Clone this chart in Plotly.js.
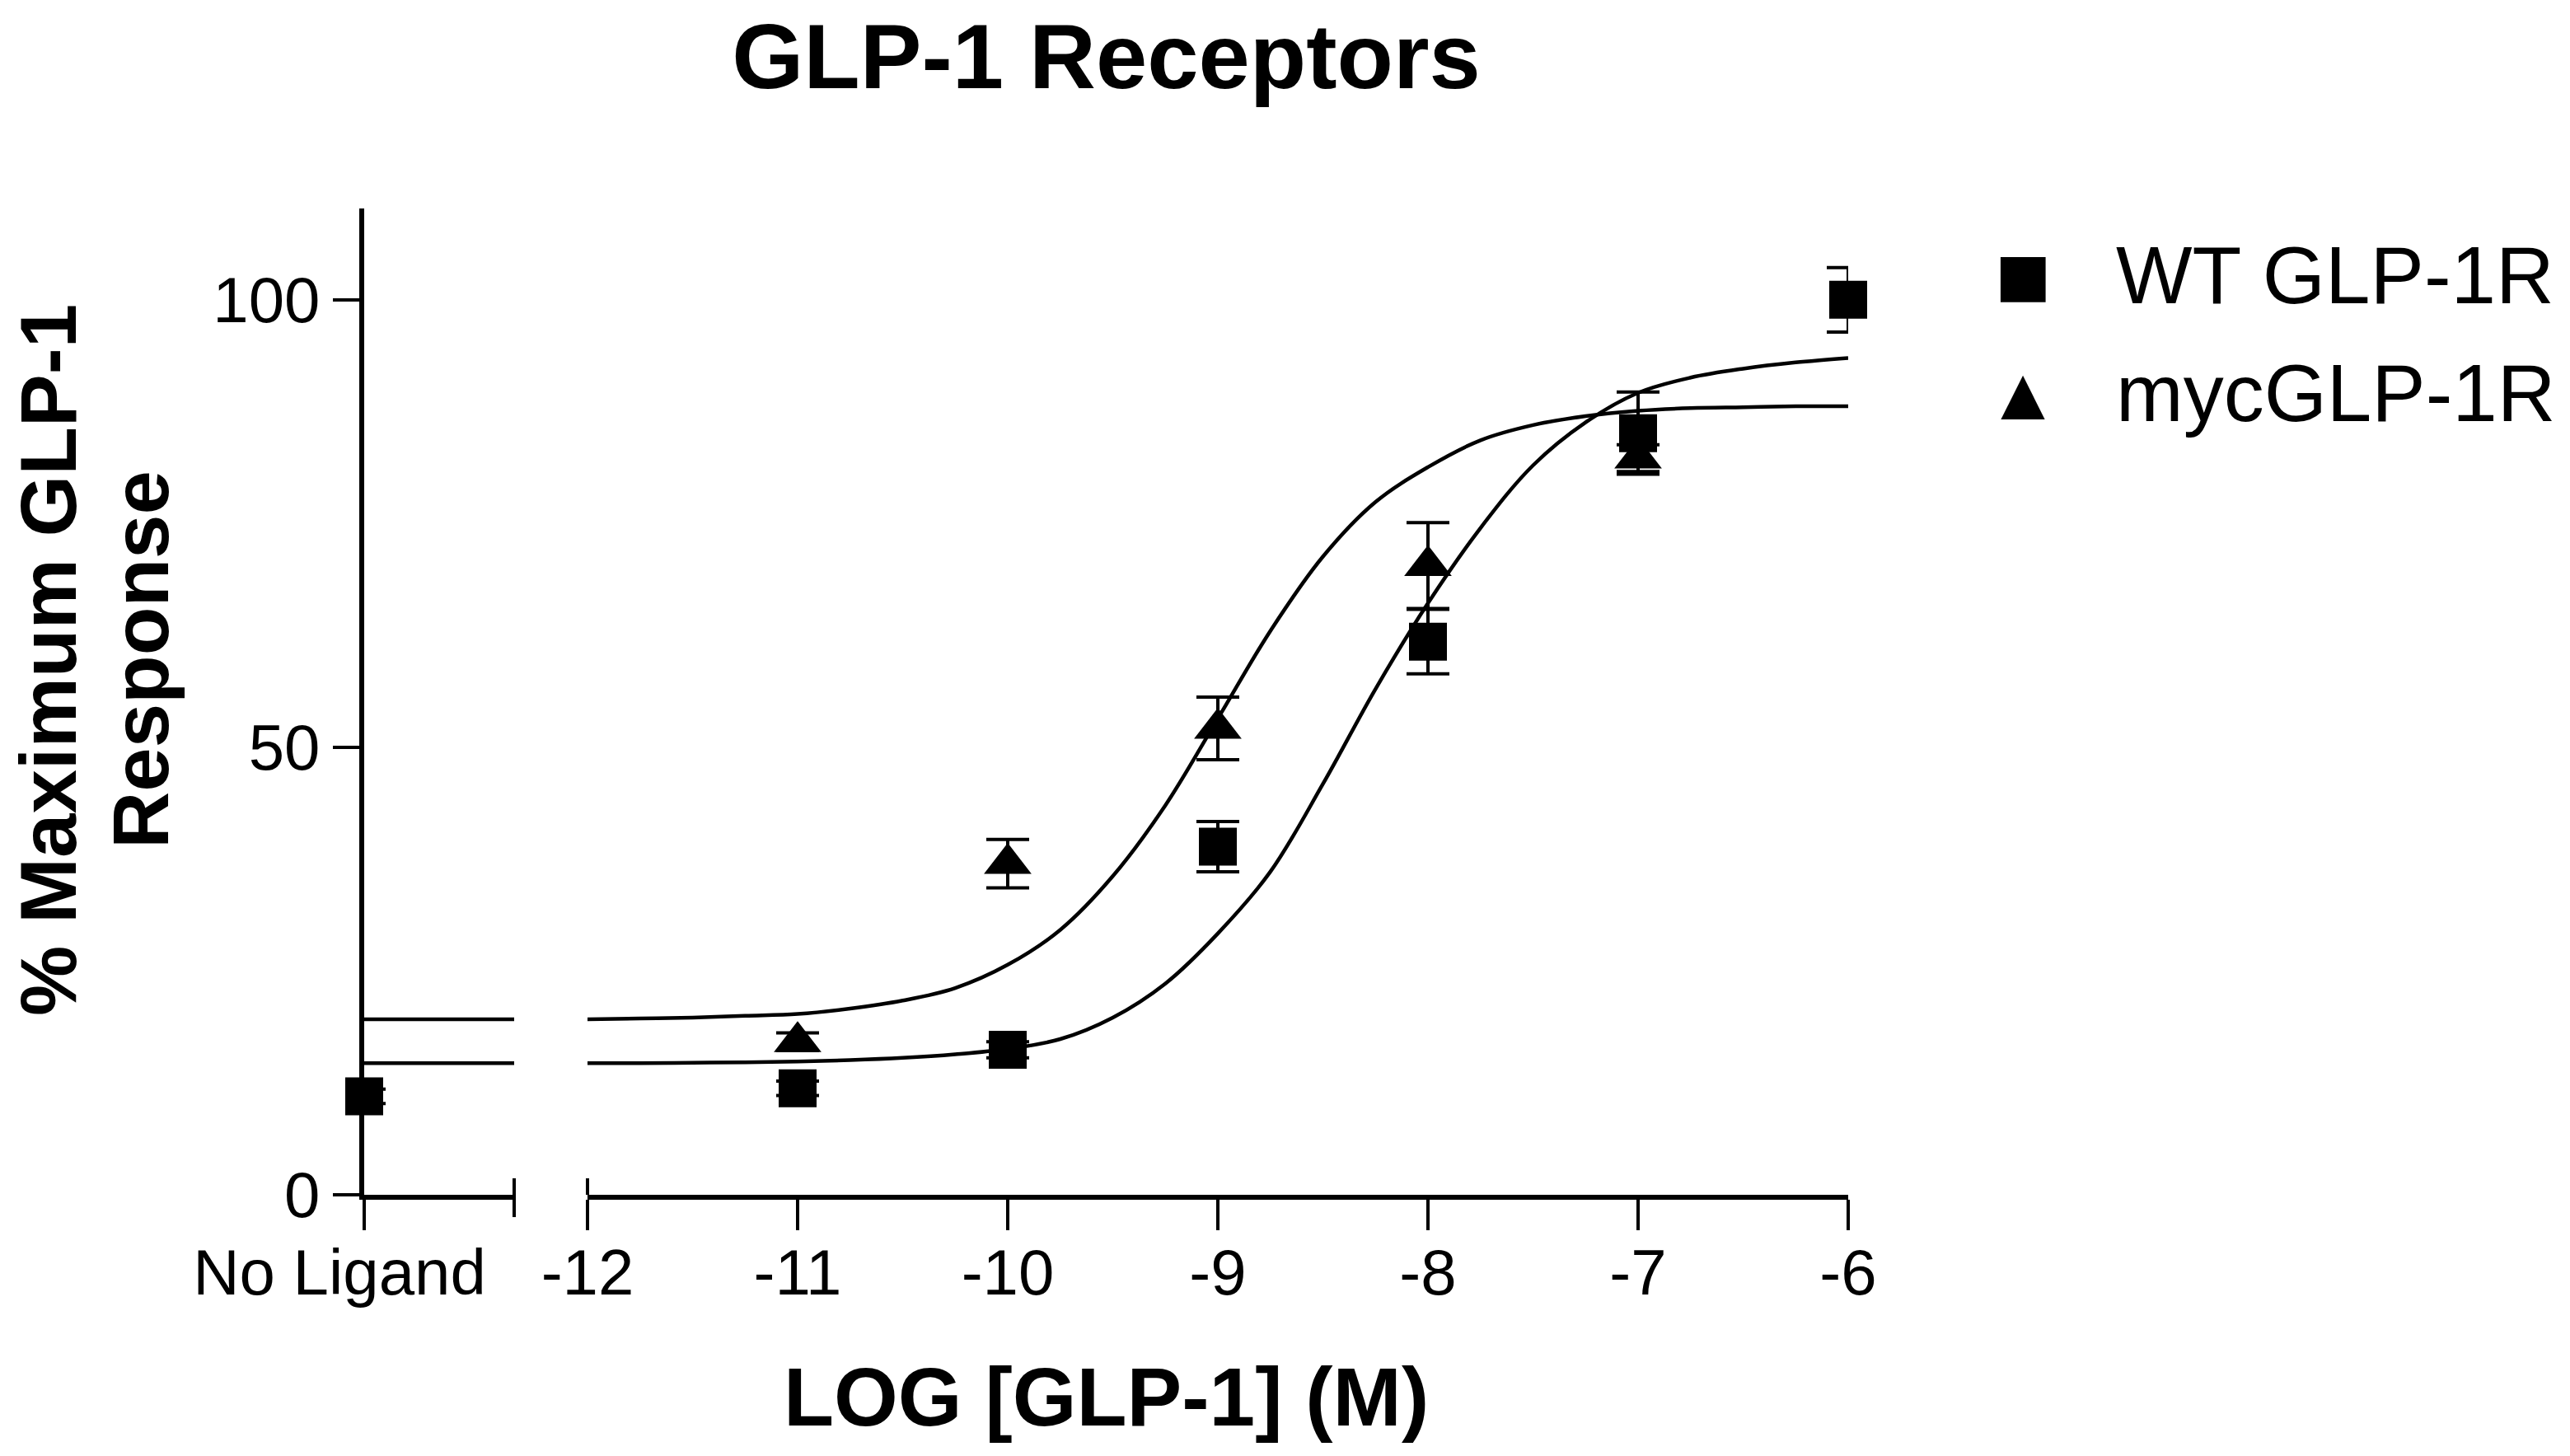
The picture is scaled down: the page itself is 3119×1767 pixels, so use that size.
<!DOCTYPE html>
<html>
<head>
<meta charset="utf-8">
<script src="https://cdn.plot.ly/plotly-3.0.1.min.js"></script>
<style>html,body{margin:0;padding:0;background:#fff;}#chart{width:3119px;height:1767px;}</style>
</head>
<body>
<div id="chart"></div>
<script>
// ---- data ----
const noLigandLabel = ['No Ligand'];
const logTicks = [-12, -11, -10, -9, -8, -7, -6];
const logTickLabels = ['-12', '-11', '-10', '-9', '-8', '-7', '-6'];
const yTicks = [0, 50, 100];
const yTickLabels = ['0', '50', '100'];

const wtNoLigandY = [11.0];
const wtNoLigandErr = [0.8];

const wtX = [-11, -10, -9, -8, -7, -6];
const wtY = [11.9, 16.2, 38.9, 61.8, 85.1, 100.0];
const wtErr = [0.8, 0.9, 2.8, 3.6, 4.6, 3.6];

const mycX = [-11, -10, -9, -8, -7];
const mycY = [17.1, 37.0, 52.1, 70.3, 82.3];
const mycErr = [1.0, 2.7, 3.5, 4.8, 1.5];

// fitted curves, every 0.25 log unit
const curveX = [-12, -11.75, -11.5, -11.25, -11, -10.75, -10.5, -10.25, -10, -9.75, -9.5, -9.25, -9,
                -8.75, -8.5, -8.25, -8, -7.75, -7.5, -7.25, -7, -6.75, -6.5, -6.25, -6];
const wtCurveY = [14.7, 14.7, 14.75, 14.8, 14.9, 15.05, 15.3, 15.7, 16.3, 17.4, 19.8, 23.6, 29.2,
                  36.1, 45.9, 56.5, 66.1, 74.5, 81.5, 86.3, 89.6, 91.3, 92.3, 93.0, 93.5];
const mycCurveY = [19.6, 19.7, 19.8, 20.0, 20.2, 20.8, 21.7, 23.1, 25.7, 29.6, 35.6, 43.5, 53.2,
                   63.0, 71.3, 77.4, 81.3, 84.3, 86.0, 87.0, 87.6, 87.9, 88.0, 88.1, 88.1];

// baseline extension in the "No Ligand" segment
const segX = [0, 1];
const wtBaseY = [14.7, 14.7];
const mycBaseY = [19.6, 19.6];

const seriesNames = ['WT GLP-1R', 'mycGLP-1R'];
const legendSymbols = ['■', '▲'];

// ---- styling ----
const FONT = 'Liberation Sans, Arial, Helvetica, sans-serif';
const lineStyle = {color: '#000', width: 4.5, shape: 'spline', smoothing: 1};
const errStyle = (arr) => ({type: 'data', array: arr, visible: true, color: '#000', thickness: 4, width: 26});

const traces = [
  {x: segX, y: wtBaseY, xaxis: 'x', yaxis: 'y', mode: 'lines', line: {color: '#000', width: 4.5}, showlegend: false, hoverinfo: 'skip'},
  {x: segX, y: mycBaseY, xaxis: 'x', yaxis: 'y', mode: 'lines', line: {color: '#000', width: 4.5}, showlegend: false, hoverinfo: 'skip'},
  {x: curveX, y: wtCurveY, xaxis: 'x2', yaxis: 'y', mode: 'lines', line: lineStyle, showlegend: false, hoverinfo: 'skip'},
  {x: curveX, y: mycCurveY, xaxis: 'x2', yaxis: 'y', mode: 'lines', line: lineStyle, showlegend: false, hoverinfo: 'skip'},
  {x: [0], y: wtNoLigandY, xaxis: 'x', yaxis: 'y', mode: 'markers', name: seriesNames[0], cliponaxis: false,
   marker: {symbol: 'square', size: 46, color: '#000', line: {width: 0}}, error_y: errStyle(wtNoLigandErr), showlegend: false},
  {x: mycX, y: mycY, xaxis: 'x2', yaxis: 'y', mode: 'markers', name: seriesNames[1], cliponaxis: false,
   marker: {symbol: 'triangle-up', size: 50, color: '#000', line: {width: 0}}, error_y: errStyle(mycErr), showlegend: false},
  {x: wtX, y: wtY, xaxis: 'x2', yaxis: 'y', mode: 'markers', name: seriesNames[0], cliponaxis: false,
   marker: {symbol: 'square', size: 46, color: '#000', line: {width: 0}}, error_y: errStyle(wtErr), showlegend: false}
];

const axisCommon = {
  showline: true, linecolor: '#000', linewidth: 6,
  ticks: 'outside', tickcolor: '#000', tickwidth: 4,
  showgrid: false, zeroline: false, fixedrange: true,
  tickfont: {family: FONT, size: 78, color: '#000'}
};

const W = 3119, H = 1767, L = 442, R = 876, T = 253, B = 317;
const pw = W - L - R, ph = H - T - B;
const px2x = (px) => (px - L) / pw;
const py2y = (py) => (H - B - py) / ph;

const layout = {
  width: W, height: H,
  margin: {l: L, r: R, t: T, b: B, pad: 0},
  paper_bgcolor: '#fff', plot_bgcolor: '#fff',
  showlegend: false,
  title: {text: 'GLP-1 Receptors', x: 0.5, xref: 'paper', xanchor: 'center', y: 1 - 68 / H, yref: 'container', yanchor: 'middle',
          font: {family: FONT, size: 112, color: '#000', weight: 'bold'}},
  xaxis: Object.assign({}, axisCommon, {
    domain: [0, px2x(624)], range: [0, 1], anchor: 'y',
    tickmode: 'array', tickvals: [0], ticktext: noLigandLabel, ticklen: 37,
    ticklabelshift: -30, ticklabelstandoff: -16
  }),
  xaxis2: Object.assign({}, axisCommon, {
    domain: [px2x(713), 1], range: [-12, -6], anchor: 'y',
    tickmode: 'array', tickvals: logTicks, ticktext: logTickLabels, ticklen: 37,
    ticklabelstandoff: -16
  }),
  yaxis: Object.assign({}, axisCommon, {
    domain: [0, 1], range: [0, 110.2], anchor: 'x',
    tickmode: 'array', tickvals: yTicks, ticktext: yTickLabels, ticklen: 32,
    ticklabelstandoff: 0
  }),
  shapes: [
    {type: 'line', xref: 'x domain', yref: 'y domain', x0: 1, x1: 1, y0: -0.0226, y1: 0.0167, line: {color: '#000', width: 4}},
    {type: 'line', xref: 'x2 domain', yref: 'y domain', x0: 0, x1: 0, y0: 0, y1: 0.0167, line: {color: '#000', width: 4}}
  ],
  annotations: [
    {text: '% Maximum GLP-1', xref: 'paper', yref: 'paper', x: px2x(58), y: py2y(801),
     xanchor: 'center', yanchor: 'middle', textangle: -90, showarrow: false,
     font: {family: FONT, size: 96, color: '#000', weight: 'bold'}},
    {text: 'Response', xref: 'paper', yref: 'paper', x: px2x(170), y: py2y(801),
     xanchor: 'center', yanchor: 'middle', textangle: -90, showarrow: false,
     font: {family: FONT, size: 96, color: '#000', weight: 'bold'}},
    {text: 'LOG [GLP-1] (M)', xref: 'paper', yref: 'paper', x: 0.5, y: py2y(1695),
     xanchor: 'center', yanchor: 'middle', showarrow: false,
     font: {family: FONT, size: 100, color: '#000', weight: 'bold'}},
    // legend
    {text: legendSymbols[0], xref: 'paper', yref: 'paper', x: px2x(2455), y: py2y(334), xanchor: 'center', yanchor: 'middle', showarrow: false,
     font: {family: FONT, size: 113, color: '#000'}},
    {text: seriesNames[0], xref: 'paper', yref: 'paper', x: px2x(2566), y: py2y(334), xanchor: 'left', yanchor: 'middle', showarrow: false,
     font: {family: FONT, size: 98, color: '#000'}},
    {text: legendSymbols[1], xref: 'paper', yref: 'paper', x: px2x(2455), y: py2y(477), xanchor: 'center', yanchor: 'middle', showarrow: false,
     font: {family: FONT, size: 91, color: '#000'}},
    {text: seriesNames[1], xref: 'paper', yref: 'paper', x: px2x(2566), y: py2y(477), xanchor: 'left', yanchor: 'middle', showarrow: false,
     font: {family: FONT, size: 98, color: '#000'}}
  ]
};

Plotly.newPlot('chart', traces, layout, {displayModeBar: false, staticPlot: true});
</script>
</body>
</html>
